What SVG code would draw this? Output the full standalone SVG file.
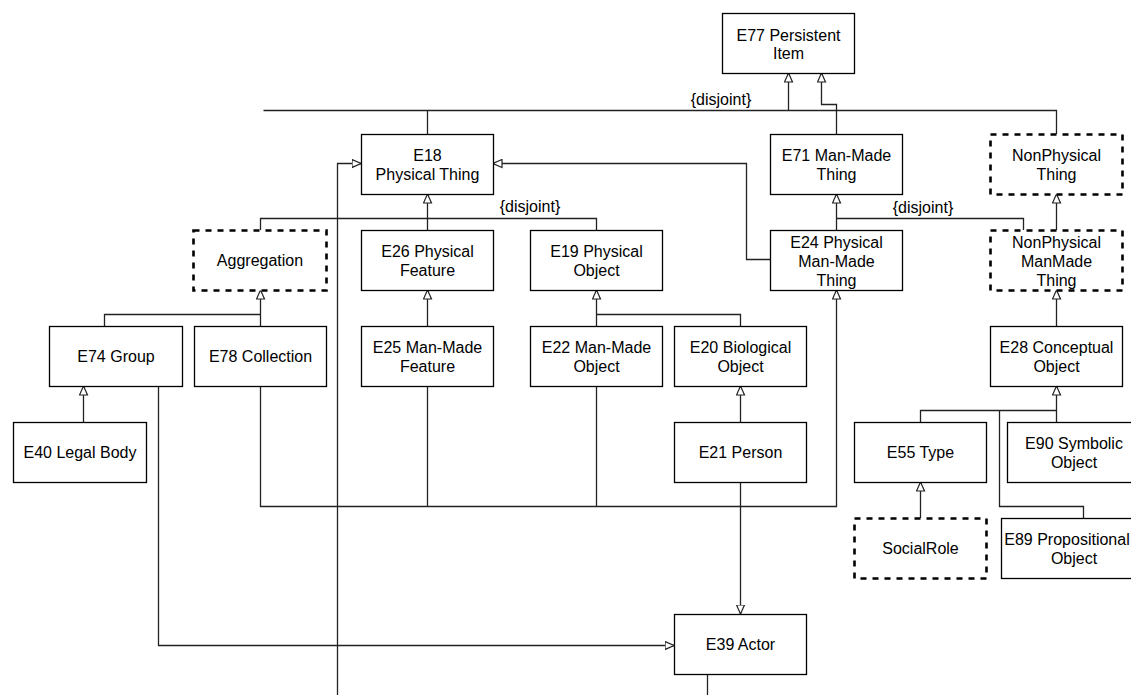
<svg xmlns="http://www.w3.org/2000/svg" width="1131" height="695" viewBox="0 0 1131 695">
<style>
.b{fill:#fff;stroke:#000;stroke-width:1.3}
.d{fill:#fff;stroke:#000;stroke-width:2.6;stroke-dasharray:6 6}
.c{fill:none;stroke:#222;stroke-width:1.3}
text{font-family:"Liberation Sans",Arial,Helvetica,sans-serif;font-size:16px;fill:#000;text-anchor:middle}
</style>
<defs>
<marker id="tri" markerUnits="userSpaceOnUse" markerWidth="10" markerHeight="10" viewBox="0 0 10 10" refX="9.5" refY="5" orient="auto">
<path d="M0.5,1 L9.5,5 L0.5,9 Z" fill="#fff" stroke="#222" stroke-width="1.2"/>
</marker>
</defs>
<rect width="1131" height="695" fill="#fff"/>
<g id="connectors">
<path class="c" d="M263.5,110.5 H1056.5 V134"/>
<path class="c" d="M427.5,134 V110.5"/>
<path class="c" d="M788.5,110.5 V73" marker-end="url(#tri)"/>
<path class="c" d="M836.5,134 V104.5 H821.5 V73" marker-end="url(#tri)"/>
<path class="c" d="M770,259.5 H746.5 V163.5 H493" marker-end="url(#tri)"/>
<path class="c" d="M337.5,695 V163.5 H361" marker-end="url(#tri)"/>
<path class="c" d="M260.5,230 V218.5 H596.5 V230"/>
<path class="c" d="M427.5,230 V194" marker-end="url(#tri)"/>
<path class="c" d="M836.5,218.5 H1023.5 V230"/>
<path class="c" d="M836.5,230 V194" marker-end="url(#tri)"/>
<path class="c" d="M1056.5,230 V194" marker-end="url(#tri)"/>
<path class="c" d="M104.5,326 V314.5 H260.5"/>
<path class="c" d="M260.5,326 V290" marker-end="url(#tri)"/>
<path class="c" d="M83.5,422 V386" marker-end="url(#tri)"/>
<path class="c" d="M427.5,326 V290" marker-end="url(#tri)"/>
<path class="c" d="M740.5,326 V314.5 H596.5"/>
<path class="c" d="M596.5,326 V290" marker-end="url(#tri)"/>
<path class="c" d="M740.5,422 V386" marker-end="url(#tri)"/>
<path class="c" d="M260.5,386 V506.5 H836.5 V290" marker-end="url(#tri)"/>
<path class="c" d="M427.5,386 V506.5"/>
<path class="c" d="M596.5,386 V506.5"/>
<path class="c" d="M158.5,386 V645.5 H674" marker-end="url(#tri)"/>
<path class="c" d="M740.5,482 V614" marker-end="url(#tri)"/>
<path class="c" d="M707.5,674 V695"/>
<path class="c" d="M1056.5,326 V290" marker-end="url(#tri)"/>
<path class="c" d="M920.5,422 V410.5 H1056.5"/>
<path class="c" d="M1056.5,422 V386" marker-end="url(#tri)"/>
<path class="c" d="M999.5,410.5 V506.5 H1083.5 V518"/>
<path class="c" d="M920.5,518 V482" marker-end="url(#tri)"/>
<text x="721" y="105">{disjoint}</text>
<text x="530" y="212">{disjoint}</text>
<text x="923" y="213">{disjoint}</text>
</g>
<g id="E77"><rect class="b" x="722.5" y="13.5" width="132" height="60"/><text x="788.5" y="41">E77 Persistent</text><text x="788.5" y="59">Item</text></g>
<g id="E18"><rect class="b" x="361.5" y="134.5" width="132" height="60"/><text x="427.5" y="161">E18</text><text x="427.5" y="180">Physical Thing</text></g>
<g id="E71"><rect class="b" x="770.5" y="134.5" width="132" height="60"/><text x="836.5" y="161">E71 Man-Made</text><text x="836.5" y="180">Thing</text></g>
<g id="NonPhysicalThing"><rect class="d" x="990.5" y="134.5" width="132" height="60"/><text x="1056.5" y="161">NonPhysical</text><text x="1056.5" y="180">Thing</text></g>
<g id="Aggregation"><rect class="d" x="193.5" y="230.5" width="133" height="60"/><text x="260" y="266">Aggregation</text></g>
<g id="E26"><rect class="b" x="361.5" y="230.5" width="132" height="60"/><text x="427.5" y="257">E26 Physical</text><text x="427.5" y="276">Feature</text></g>
<g id="E19"><rect class="b" x="530.5" y="230.5" width="132" height="60"/><text x="596.5" y="257">E19 Physical</text><text x="596.5" y="276">Object</text></g>
<g id="E24"><rect class="b" x="770.5" y="230.5" width="132" height="60"/><text x="836.5" y="247.5">E24 Physical</text><text x="836.5" y="267">Man-Made</text><text x="836.5" y="286">Thing</text></g>
<g id="NonPhysicalManMadeThing"><rect class="d" x="990.5" y="230.5" width="132" height="60"/><text x="1056.5" y="247.5">NonPhysical</text><text x="1056.5" y="267">ManMade</text><text x="1056.5" y="286">Thing</text></g>
<g id="E74"><rect class="b" x="49.5" y="326.5" width="133" height="60"/><text x="116" y="362">E74 Group</text></g>
<g id="E78"><rect class="b" x="194.5" y="326.5" width="132" height="60"/><text x="260.5" y="362">E78 Collection</text></g>
<g id="E25"><rect class="b" x="361.5" y="326.5" width="132" height="60"/><text x="427.5" y="353">E25 Man-Made</text><text x="427.5" y="372">Feature</text></g>
<g id="E22"><rect class="b" x="530.5" y="326.5" width="132" height="60"/><text x="596.5" y="353">E22 Man-Made</text><text x="596.5" y="372">Object</text></g>
<g id="E20"><rect class="b" x="674.5" y="326.5" width="132" height="60"/><text x="740.5" y="353">E20 Biological</text><text x="740.5" y="372">Object</text></g>
<g id="E28"><rect class="b" x="990.5" y="326.5" width="132" height="60"/><text x="1056.5" y="353">E28 Conceptual</text><text x="1056.5" y="372">Object</text></g>
<g id="E40"><rect class="b" x="13.5" y="422.5" width="133" height="60"/><text x="80" y="458">E40 Legal Body</text></g>
<g id="E21"><rect class="b" x="674.5" y="422.5" width="132" height="60"/><text x="740.5" y="458">E21 Person</text></g>
<g id="E55"><rect class="b" x="854.5" y="422.5" width="132" height="60"/><text x="920.5" y="458">E55 Type</text></g>
<g id="E90"><rect class="b" x="1007.5" y="422.5" width="133" height="60"/><text x="1074" y="449">E90 Symbolic</text><text x="1074" y="468">Object</text></g>
<g id="SocialRole"><rect class="d" x="854.5" y="518.5" width="132" height="60"/><text x="920.5" y="554">SocialRole</text></g>
<g id="E89"><rect class="b" x="1001.5" y="518.5" width="140" height="60"/><text x="1067" y="545">E89 Propositional</text><text x="1074" y="564">Object</text></g>
<g id="E39"><rect class="b" x="674.5" y="614.5" width="132" height="60"/><text x="740.5" y="650">E39 Actor</text></g>
</svg>
